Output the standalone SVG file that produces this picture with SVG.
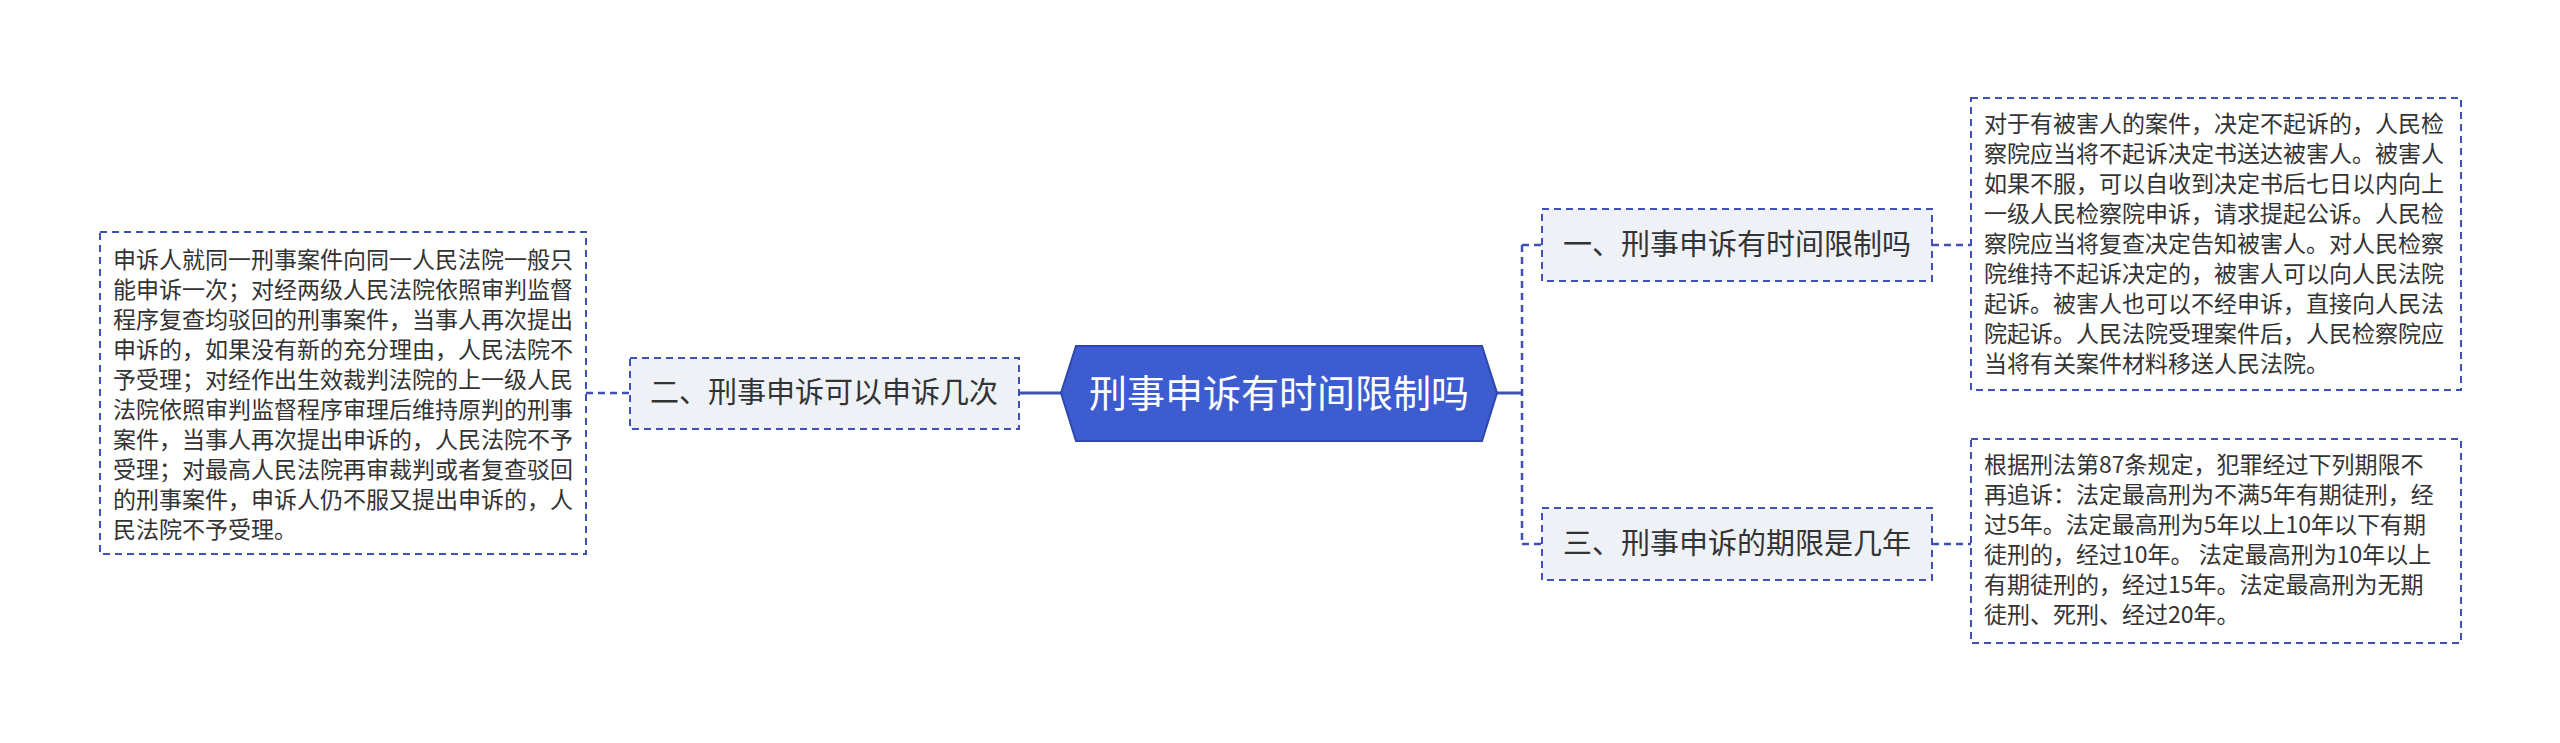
<svg xmlns="http://www.w3.org/2000/svg" width="2560" height="743" viewBox="0 0 2560 743">
<style>
.t{font-family:"Noto Sans CJK SC","Noto Sans",sans-serif;fill:#333;font-size:23px}
.n{font-family:"Noto Sans CJK SC","Noto Sans",sans-serif;fill:#333;font-size:29px}
.box{fill:#fff;stroke:#3f51b5;stroke-width:2;stroke-dasharray:7 5}
.node{fill:#eef1f6;stroke:#3f51b5;stroke-width:2;stroke-dasharray:7 5}
.dl{stroke:#3f51b5;stroke-width:2.5;stroke-dasharray:7 5;fill:none}
.sl{stroke:#3f51b5;stroke-width:3;fill:none}
</style>
<rect width="2560" height="743" fill="#fff"/>
<g id="connectors">
<path class="sl" d="M1019 393H1061"/>
<path class="dl" d="M586 393H630"/>
<path class="sl" d="M1497 393H1522"/>
<path class="dl" d="M1522 245V544M1522 245H1542M1522 544H1542"/>
<path class="dl" d="M1932 245H1971M1932 544H1971"/>
</g>
<g id="center">
<polygon points="1061,393 1076,346 1482,346 1497,393 1482,441 1076,441" fill="#3d5ccf" stroke="#2e48b0" stroke-width="2"/>
<text x="1279" y="407" text-anchor="middle" font-family="Noto Sans CJK SC,Noto Sans,sans-serif" font-size="38" fill="#fff">刑事申诉有时间限制吗</text>
</g>
<g id="node2">
<rect class="node" x="630" y="358" width="389" height="71"/>
<text class="n" x="824" y="403" text-anchor="middle">二、刑事申诉可以申诉几次</text>
</g>
<g id="text2">
<rect class="box" x="100" y="232" width="486" height="322"/>
<text class="t" x="113" y="268">
<tspan x="113">申诉人就同一刑事案件向同一人民法院一般只</tspan>
<tspan x="113" dy="30">能申诉一次；对经两级人民法院依照审判监督</tspan>
<tspan x="113" dy="30">程序复查均驳回的刑事案件，当事人再次提出</tspan>
<tspan x="113" dy="30">申诉的，如果没有新的充分理由，人民法院不</tspan>
<tspan x="113" dy="30">予受理；对经作出生效裁判法院的上一级人民</tspan>
<tspan x="113" dy="30">法院依照审判监督程序审理后维持原判的刑事</tspan>
<tspan x="113" dy="30">案件，当事人再次提出申诉的，人民法院不予</tspan>
<tspan x="113" dy="30">受理；对最高人民法院再审裁判或者复查驳回</tspan>
<tspan x="113" dy="30">的刑事案件，申诉人仍不服又提出申诉的，人</tspan>
<tspan x="113" dy="30">民法院不予受理。</tspan>
</text>
</g>
<g id="node1">
<rect class="node" x="1542" y="209" width="390" height="72"/>
<text class="n" x="1737" y="255" text-anchor="middle">一、刑事申诉有时间限制吗</text>
</g>
<g id="text1">
<rect class="box" x="1971" y="98" width="490" height="292"/>
<text class="t">
<tspan x="1984" y="132">对于有被害人的案件，决定不起诉的，人民检</tspan>
<tspan x="1984" dy="30">察院应当将不起诉决定书送达被害人。被害人</tspan>
<tspan x="1984" dy="30">如果不服，可以自收到决定书后七日以内向上</tspan>
<tspan x="1984" dy="30">一级人民检察院申诉，请求提起公诉。人民检</tspan>
<tspan x="1984" dy="30">察院应当将复查决定告知被害人。对人民检察</tspan>
<tspan x="1984" dy="30">院维持不起诉决定的，被害人可以向人民法院</tspan>
<tspan x="1984" dy="30">起诉。被害人也可以不经申诉，直接向人民法</tspan>
<tspan x="1984" dy="30">院起诉。人民法院受理案件后，人民检察院应</tspan>
<tspan x="1984" dy="30">当将有关案件材料移送人民法院。</tspan>
</text>
</g>
<g id="node3">
<rect class="node" x="1542" y="508" width="390" height="72"/>
<text class="n" x="1737" y="554" text-anchor="middle">三、刑事申诉的期限是几年</text>
</g>
<g id="text3">
<rect class="box" x="1971" y="439" width="490" height="204"/>
<text class="t">
<tspan x="1984" y="473">根据刑法第87条规定，犯罪经过下列期限不</tspan>
<tspan x="1984" dy="30">再追诉：法定最高刑为不满5年有期徒刑，经</tspan>
<tspan x="1984" dy="30">过5年。法定最高刑为5年以上10年以下有期</tspan>
<tspan x="1984" dy="30">徒刑的，经过10年。 法定最高刑为10年以上</tspan>
<tspan x="1984" dy="30">有期徒刑的，经过15年。法定最高刑为无期</tspan>
<tspan x="1984" dy="30">徒刑、死刑、经过20年。</tspan>
</text>
</g>
</svg>
